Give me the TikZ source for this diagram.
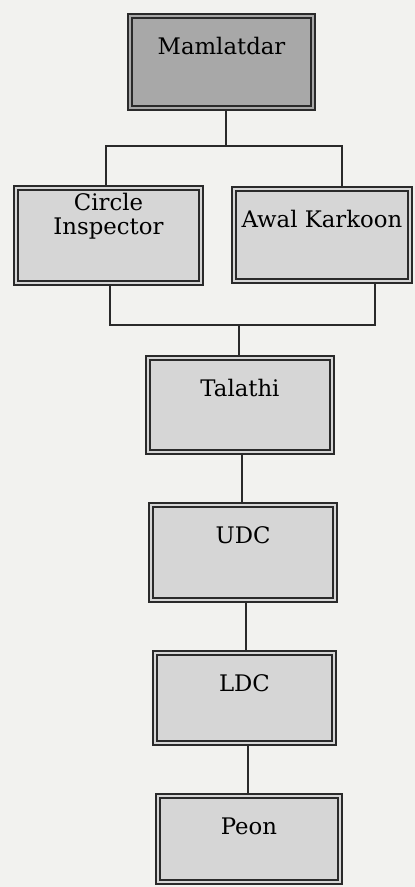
\documentclass[tikz,border=0pt]{standalone}
\usepackage{fontspec}
\setmainfont{DejaVu Serif}
\usepackage{tikz}
\usetikzlibrary{positioning,calc}

\definecolor{paper}{HTML}{F2F2EF}
\definecolor{boxgray}{HTML}{D6D6D6}
\definecolor{topgray}{HTML}{A8A8A8}
\definecolor{inkline}{HTML}{2A2A2A}

\tikzset{
  office/.style={draw=inkline, line width=1.8pt, double=#1, double distance=2.2pt,
    fill=#1, inner xsep=0pt, inner ysep=0pt, outer sep=2.9pt, anchor=north,
    text height=38.1pt, font=\fontsize{22.8}{24}\selectfont},
  office/.default=boxgray,
  wire/.style={draw=inkline, line width=1.6pt}
}

\begin{document}
\begin{tikzpicture}[x=1pt, y=-1pt]
    \fill[paper] (0,0) rectangle (415,887);
    \useasboundingbox (0,0) rectangle (415,887);

    \node[office=topgray, minimum width=183.2pt, text depth=54.1pt] (mam) at (221.5,13) {Mamlatdar};
    \node[office, minimum width=185.2pt, align=center, text height=46.1pt, text depth=49.1pt] (ci) at (108.5,185) {Circle\\Inspector};
    \node[office, minimum width=176.2pt, text depth=54.1pt] (awal) at (322,186) {Awal Karkoon};
    \node[office, minimum width=184.2pt, text depth=56.1pt] (tal) at (240,355) {Talathi};
    \node[office, minimum width=184.2pt, text depth=57.1pt] (udc) at (243,502) {UDC};
    \node[office, minimum width=179.2pt, text depth=52.1pt] (ldc) at (244.5,650) {LDC};
    \node[office, minimum width=182.2pt, text depth=48.1pt] (peon) at (249,793) {Peon};

    % branch points
    \coordinate (jtl) at (106,146);
    \coordinate (jtr) at (342,146);
    \coordinate (jbl) at (110,325);
    \coordinate (jbr) at (375,325);

    \draw[wire] ([xshift=4.5pt]mam.south) -- ([xshift=4.5pt]mam.south |- jtl);
    \draw[wire] (ci.north -| jtl) -- (jtl) -- (jtr) -- (awal.north -| jtr);
    \draw[wire] (ci.south -| jbl) -- (jbl) -- (jbr) -- (awal.south -| jbr);
    \draw[wire] ([xshift=-1pt]tal.north |- jbl) -- ([xshift=-1pt]tal.north);
    \draw[wire] ([xshift=2pt]tal.south) -- ([xshift=2pt]tal.south |- udc.north);
    \draw[wire] ([xshift=3pt]udc.south) -- ([xshift=3pt]udc.south |- ldc.north);
    \draw[wire] ([xshift=3.5pt]ldc.south) -- ([xshift=3.5pt]ldc.south |- peon.north);
\end{tikzpicture}
\end{document}
